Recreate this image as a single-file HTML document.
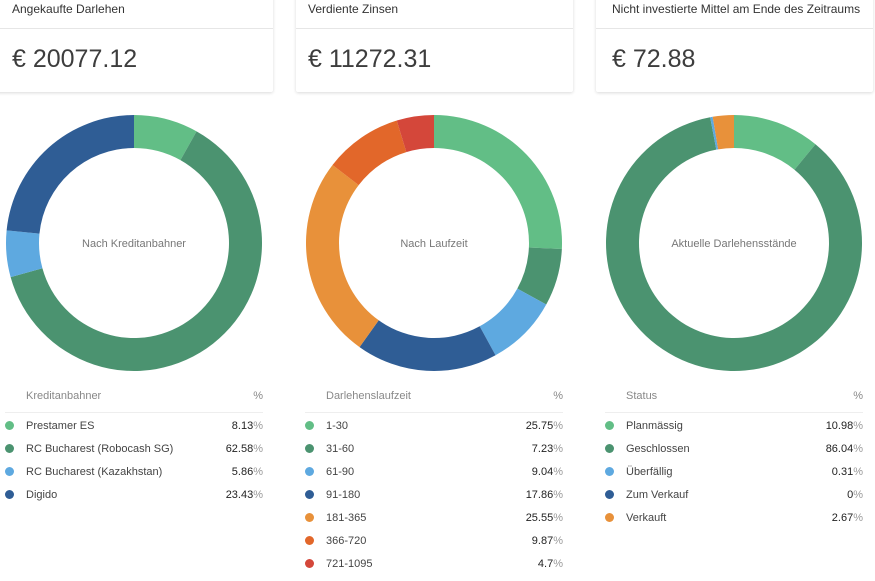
<!DOCTYPE html>
<html><head><meta charset="utf-8">
<style>
body{margin:0;width:875px;height:566px;background:#fff;font-family:"Liberation Sans",sans-serif;overflow:hidden;position:relative;color:#333}
.card{position:absolute;top:-6px;height:98px;background:#fff;box-shadow:0 1px 3px rgba(0,0,0,0.15);border-radius:2px}
.card .t{position:absolute;left:12px;top:8px;font-size:12px;color:#333}
.card .d{position:absolute;left:0;right:0;top:34px;border-top:1px solid #e6e6e6}
.card .v{position:absolute;left:12px;top:51px;font-size:25px;color:#3d3d3d}
svg{position:absolute;left:0;top:0}
.lg{position:absolute;font-size:11px}
.lh{color:#888;height:22px;border-bottom:1px solid #eee;position:relative}
.row{height:23px;position:relative;color:#444}
.dot{position:absolute;width:9px;height:9px;border-radius:50%}
.lab{position:absolute}
.val{position:absolute;right:0;color:#222}
.val span{color:#999}
</style></head><body>
<div class="card" style="left:-4px;width:277px"><div class="t" style="left:16px">Angekaufte Darlehen</div><div class="d"></div><div class="v" style="left:16px">€ 20077.12</div></div>
<div class="card" style="left:296px;width:277px"><div class="t">Verdiente Zinsen</div><div class="d"></div><div class="v">€ 11272.31</div></div>
<div class="card" style="left:596px;width:277px"><div class="t" style="left:16px">Nicht investierte Mittel am Ende des Zeitraums</div><div class="d"></div><div class="v" style="left:16px">€ 72.88</div></div>
<svg id="svg" width="875" height="566"></svg>
<script>
const labels1=["Prestamer ES","RC Bucharest (Robocash SG)","RC Bucharest (Kazakhstan)","Digido"];
const values1=[8.13,62.58,5.86,23.43];
const colors1=["#62be86","#4b9370","#5ea9e0","#2f5d95"];
const labels2=["1-30","31-60","61-90","91-180","181-365","366-720","721-1095"];
const values2=[25.75,7.23,9.04,17.86,25.55,9.87,4.7];
const colors2=["#62be86","#4b9370","#5ea9e0","#2f5d95","#e8913a","#e2672a","#d4473a"];
const labels3=["Planmässig","Geschlossen","Überfällig","Zum Verkauf","Verkauft"];
const values3=[10.98,86.04,0.31,0,2.67];
const colors3=["#62be86","#4b9370","#5ea9e0","#2f5d95","#e8913a"];
const charts=[
 {cx:134,title:"Nach Kreditanbahner",head:"Kreditanbahner",labels:labels1,values:values1,colors:colors1,lx:5,rx:263,name:"originator"},
 {cx:434,title:"Nach Laufzeit",head:"Darlehenslaufzeit",labels:labels2,values:values2,colors:colors2,lx:305,rx:563,name:"term"},
 {cx:734,title:"Aktuelle Darlehensstände",head:"Status",labels:labels3,values:values3,colors:colors3,lx:605,rx:863,name:"status"}];
const NS="http://www.w3.org/2000/svg",svg=document.getElementById('svg');
const cy=243,R=128,r=95;
function pt(rad,a){return [rad*Math.sin(a),-rad*Math.cos(a)];}
charts.forEach(c=>{
 const tot=c.values.reduce((a,b)=>a+b,0);let acc=0;
 c.values.forEach((v,i)=>{
  if(v<=0)return;
  const a0=acc/tot*2*Math.PI,a1=(acc+v)/tot*2*Math.PI;acc+=v;
  const big=(a1-a0)>Math.PI?1:0;
  const p0=pt(R,a0),p1=pt(R,a1),q1=pt(r,a1),q0=pt(r,a0);
  const p=document.createElementNS(NS,'path');
  p.setAttribute('d',`M${c.cx+p0[0]},${cy+p0[1]}A${R},${R} 0 ${big} 1 ${c.cx+p1[0]},${cy+p1[1]}L${c.cx+q1[0]},${cy+q1[1]}A${r},${r} 0 ${big} 0 ${c.cx+q0[0]},${cy+q0[1]}Z`);
  p.setAttribute('fill',c.colors[i]);
  
  
  svg.appendChild(p);
 });
 const t=document.createElementNS(NS,'text');
 t.setAttribute('x',c.cx);t.setAttribute('y',cy+4);t.setAttribute('text-anchor','middle');
 t.setAttribute('font-size','11');t.setAttribute('fill','#777');t.setAttribute('font-family','Liberation Sans,sans-serif');
 t.textContent=c.title;
 
 
 svg.appendChild(t);
 const lg=document.createElement('div');lg.className='lg';
 lg.style.left=c.lx+'px';lg.style.width=(c.rx-c.lx)+'px';lg.style.top='390px';
 
 
 let h=`<div class="lh"><span style="position:absolute;left:21px">${c.head}</span><span style="position:absolute;right:0">%</span></div><div style="height:7px"></div>`;
 c.labels.forEach((l,i)=>{
  h+=`<div class="row"><div class="dot" style="left:0;top:1px;background:${c.colors[i]}"></div><div class="lab" style="left:21px">${l}</div><div class="val">${c.values[i]}<span>%</span></div></div>`;
 });
 lg.innerHTML=h;document.body.appendChild(lg);
});
</script>
</body></html>
